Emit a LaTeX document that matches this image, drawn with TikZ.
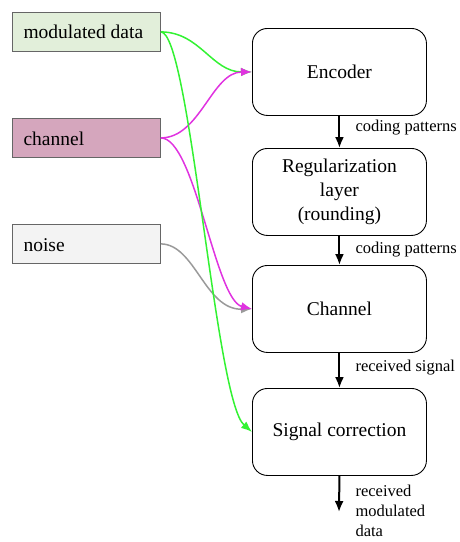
\documentclass[tikz,border=0pt]{standalone}
\usepackage{fontspec}
\setmainfont{Liberation Serif}
\newfontfamily\tmsfont{Liberation Serif}
\usetikzlibrary{arrows.meta}
\definecolor{mdfill}{HTML}{E2EFDA}
\definecolor{chfill}{HTML}{D5A6BD}
\definecolor{nzfill}{HTML}{F3F3F3}
\definecolor{grn}{HTML}{33F233}
\definecolor{mag}{HTML}{E033E0}
\definecolor{gry}{HTML}{9A9A9A}
\tikzset{
  inbox/.style={draw=gray!80!black, line width=0.8pt, minimum width=148pt, minimum height=39pt, anchor=north west, inner sep=0pt},
  intext/.style={font=\tmsfont\fontsize{19.5}{22}\selectfont, anchor=west},
  procbox/.style={draw=black, line width=0.9pt, rounded corners=15pt, minimum width=174pt, minimum height=87pt, anchor=north west, inner sep=0pt},
  proctext/.style={font=\tmsfont\fontsize{19.5}{24}\selectfont, align=center},
  lbl/.style={font=\tmsfont\fontsize{16.5}{20}\selectfont, anchor=west, align=left},
  flow/.style={-{Latex[length=11pt,width=9pt]}, line width=2pt, black},
  feed/.style={-{Latex[length=11pt,width=8.5pt]}, line width=1.5pt}
}
\begin{document}
\begin{tikzpicture}[x=1pt,y=-1pt]
\useasboundingbox (0,0) rectangle (459,542);
% input boxes
\node[inbox, fill=mdfill] (md) at (12,12) {};
\node[intext] (mdt) at (20,32) {modulated data};
\node[inbox, fill=chfill] (ch) at (12,118) {};
\node[intext] (cht) at (20,139) {channel};
\node[inbox, fill=nzfill] (nz) at (12,224) {};
\node[intext] (nzt) at (20,245) {noise};
% process boxes
\node[procbox] (enc) at (252,28) {};
\node[proctext] (enct) at (enc.center) {Encoder};
\node[procbox] (reg) at (252,148) {};
\node[proctext] (regt) at (reg.center) {Regularization\\layer\\(rounding)};
\node[procbox] (chan) at (252,265) {};
\node[proctext] (chant) at (chan.center) {Channel};
\node[procbox] (sig) at (252,388) {};
\node[proctext] (sigt) at (sig.center) {Signal correction};
\coordinate (out) at (339,512);
% main flow
\draw[flow] (enc.south) -- (reg.north);
\draw[flow] (reg.south) -- (chan.north);
\draw[flow] (chan.south) -- (sig.north);
\draw[flow] (sig.south) -- (out);
\node[lbl] (l1) at (352,128) {coding patterns};
\node[lbl] (l2) at (352,250) {coding patterns};
\node[lbl] (l3) at (352,368) {received signal};
\node[lbl] (l4) at (352,511) {received\\modulated\\data};
% feeds
\draw[feed, grn] (md.east) .. controls (200,32) and (212,72) .. (enc.west);
\draw[feed, mag] (ch.east) .. controls (200,138) and (212,72) .. (enc.west);
\draw[feed, gry] (nz.east) .. controls (195,244) and (205,310) .. (chan.west);
\draw[feed, mag] (ch.east) .. controls (195,138) and (215,300) .. (chan.west);
\draw[feed, grn] (md.east) .. controls (190,32) and (215,400) .. (sig.west);
\end{tikzpicture}
\end{document}
